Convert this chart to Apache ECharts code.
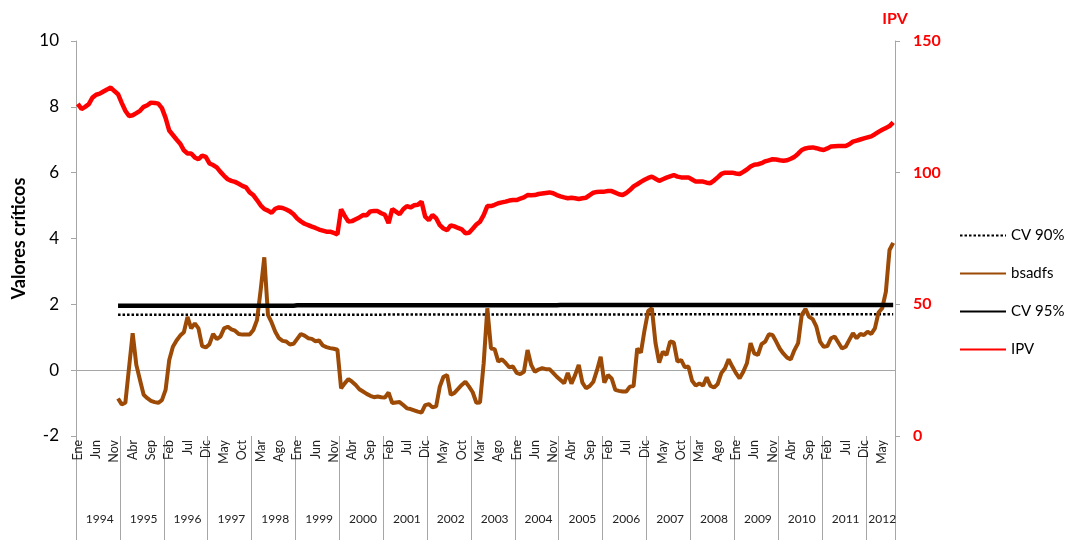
<!DOCTYPE html>
<html>
<head>
<meta charset="utf-8">
<script src="https://cdn.jsdelivr.net/npm/echarts@6/dist/echarts.min.js"></script>
<style>
html, body { margin: 0; padding: 0; background: #fff; }
#chart { width: 1066px; height: 540px; }
</style>
</head>
<body>
<div id="chart"></div>
<script>
const monthNames = ["Ene", "Feb", "Mar", "Abr", "May", "Jun", "Jul", "Ago", "Sep", "Oct", "Nov", "Dic"]
const years = [1994, 1995, 1996, 1997, 1998, 1999, 2000, 2001, 2002, 2003, 2004, 2005, 2006, 2007, 2008, 2009, 2010, 2011, 2012]
const monthsLastYear = 8

// one row per year, Ene..Dic
const bsadfs = [
	null, null, null, null, null, null, null, null, null, null, null, -0.86,
	-1.04, -0.99, 0.07, 1.12, 0.16, -0.3, -0.75, -0.85, -0.93, -0.97, -0.99, -0.91,
	-0.6, 0.31, 0.71, 0.9, 1.05, 1.15, 1.62, 1.27, 1.42, 1.27, 0.73, 0.69,
	0.79, 1.1, 0.94, 1.02, 1.27, 1.32, 1.24, 1.2, 1.1, 1.08, 1.08, 1.08,
	1.22, 1.52, 2.43, 3.43, 1.68, 1.45, 1.17, 0.97, 0.89, 0.87, 0.78, 0.8,
	0.95, 1.1, 1.05, 0.97, 0.95, 0.88, 0.9, 0.75, 0.7, 0.67, 0.65, 0.62,
	-0.55, -0.4, -0.27, -0.35, -0.45, -0.58, -0.65, -0.72, -0.78, -0.82, -0.8, -0.82,
	-0.83, -0.68, -1.0, -0.98, -0.97, -1.06, -1.16, -1.18, -1.22, -1.26, -1.29, -1.06,
	-1.03, -1.13, -1.1, -0.5, -0.2, -0.15, -0.75, -0.69, -0.57, -0.45, -0.35, -0.5,
	-0.67, -0.99, -0.98, 0.21, 1.88, 0.66, 0.64, 0.26, 0.33, 0.22, 0.09, 0.11,
	-0.08, -0.12, -0.05, 0.61, 0.16, -0.05, 0.02, 0.06, 0.03, 0.03, -0.08, -0.2,
	-0.3, -0.4, -0.08, -0.41, -0.15, 0.16, -0.38, -0.55, -0.48, -0.35, 0.0, 0.41,
	-0.38, -0.15, -0.25, -0.6, -0.63, -0.65, -0.65, -0.5, -0.48, 0.66, 0.53, 1.22,
	1.8, 1.88, 0.82, 0.23, 0.56, 0.46, 0.87, 0.84, 0.26, 0.31, 0.09, 0.11,
	-0.32, -0.47, -0.4, -0.47, -0.22, -0.47, -0.53, -0.42, -0.09, 0.06, 0.33, 0.11,
	-0.09, -0.25, -0.05, 0.21, 0.82, 0.51, 0.46, 0.79, 0.87, 1.09, 1.07, 0.87,
	0.65, 0.5, 0.38, 0.33, 0.61, 0.82, 1.68, 1.86, 1.62, 1.55, 1.32, 0.87,
	0.71, 0.73, 0.97, 1.02, 0.84, 0.66, 0.71, 0.92, 1.12, 0.97, 1.1, 1.07,
	1.17, 1.1, 1.27, 1.75, 1.88, 2.38, 3.65, 3.87
]

const cv95 = [
	null, null, null, null, null, null, null, null, null, null, null, 1.96,
	1.96, 1.96, 1.96, 1.96, 1.96, 1.96, 1.96, 1.96, 1.96, 1.96, 1.96, 1.96,
	1.96, 1.96, 1.96, 1.96, 1.96, 1.96, 1.96, 1.96, 1.96, 1.96, 1.96, 1.96,
	1.96, 1.96, 1.96, 1.96, 1.96, 1.96, 1.96, 1.96, 1.96, 1.96, 1.96, 1.96,
	1.96, 1.96, 1.96, 1.96, 1.96, 1.96, 1.96, 1.96, 1.96, 1.96, 1.96, 1.96,
	1.97, 1.97, 1.97, 1.97, 1.97, 1.97, 1.97, 1.97, 1.97, 1.97, 1.97, 1.97,
	1.97, 1.97, 1.97, 1.97, 1.97, 1.97, 1.97, 1.97, 1.97, 1.97, 1.97, 1.97,
	1.97, 1.97, 1.97, 1.97, 1.97, 1.97, 1.97, 1.97, 1.97, 1.97, 1.97, 1.97,
	1.97, 1.97, 1.97, 1.97, 1.97, 1.97, 1.97, 1.97, 1.97, 1.97, 1.97, 1.97,
	1.97, 1.97, 1.97, 1.97, 1.97, 1.97, 1.97, 1.97, 1.97, 1.97, 1.97, 1.97,
	1.97, 1.97, 1.97, 1.97, 1.97, 1.97, 1.97, 1.97, 1.97, 1.97, 1.97, 1.97,
	1.98, 1.98, 1.98, 1.98, 1.98, 1.98, 1.98, 1.98, 1.98, 1.98, 1.98, 1.98,
	1.98, 1.98, 1.98, 1.98, 1.98, 1.98, 1.98, 1.98, 1.98, 1.98, 1.98, 1.98,
	1.98, 1.98, 1.98, 1.98, 1.98, 1.98, 1.98, 1.98, 1.98, 1.98, 1.98, 1.98,
	1.98, 1.98, 1.98, 1.98, 1.98, 1.98, 1.98, 1.98, 1.98, 1.98, 1.98, 1.98,
	1.98, 1.98, 1.98, 1.98, 1.98, 1.98, 1.98, 1.98, 1.98, 1.98, 1.98, 1.98,
	1.98, 1.98, 1.98, 1.98, 1.98, 1.98, 1.98, 1.98, 1.98, 1.98, 1.98, 1.98,
	1.98, 1.98, 1.98, 1.98, 1.98, 1.98, 1.98, 1.98, 1.98, 1.98, 1.98, 1.98,
	1.98, 1.98, 1.98, 1.98, 1.98, 1.98, 1.98, 1.98
]

const cv90 = [
	null, null, null, null, null, null, null, null, null, null, null, 1.68,
	1.68, 1.68, 1.68, 1.68, 1.68, 1.68, 1.68, 1.68, 1.68, 1.68, 1.68, 1.68,
	1.68, 1.68, 1.68, 1.68, 1.68, 1.68, 1.68, 1.68, 1.68, 1.68, 1.68, 1.68,
	1.68, 1.68, 1.68, 1.68, 1.68, 1.68, 1.68, 1.68, 1.68, 1.68, 1.68, 1.68,
	1.68, 1.68, 1.68, 1.68, 1.68, 1.68, 1.68, 1.68, 1.68, 1.68, 1.68, 1.68,
	1.68, 1.68, 1.68, 1.68, 1.68, 1.68, 1.68, 1.68, 1.68, 1.68, 1.68, 1.68,
	1.68, 1.68, 1.68, 1.68, 1.68, 1.68, 1.68, 1.68, 1.68, 1.68, 1.68, 1.68,
	1.69, 1.69, 1.69, 1.69, 1.69, 1.69, 1.69, 1.69, 1.69, 1.69, 1.69, 1.69,
	1.69, 1.69, 1.69, 1.69, 1.69, 1.69, 1.69, 1.69, 1.69, 1.69, 1.69, 1.69,
	1.69, 1.69, 1.69, 1.69, 1.69, 1.69, 1.69, 1.69, 1.69, 1.69, 1.69, 1.69,
	1.69, 1.69, 1.69, 1.69, 1.69, 1.69, 1.69, 1.69, 1.69, 1.69, 1.69, 1.69,
	1.69, 1.69, 1.69, 1.69, 1.69, 1.69, 1.69, 1.69, 1.69, 1.69, 1.69, 1.69,
	1.69, 1.69, 1.69, 1.69, 1.69, 1.69, 1.69, 1.69, 1.69, 1.69, 1.69, 1.69,
	1.70, 1.70, 1.70, 1.70, 1.70, 1.70, 1.70, 1.70, 1.70, 1.70, 1.70, 1.70,
	1.70, 1.70, 1.70, 1.70, 1.70, 1.70, 1.70, 1.70, 1.70, 1.70, 1.70, 1.70,
	1.70, 1.70, 1.70, 1.70, 1.70, 1.70, 1.70, 1.70, 1.70, 1.70, 1.70, 1.70,
	1.70, 1.70, 1.70, 1.70, 1.70, 1.70, 1.70, 1.70, 1.70, 1.70, 1.70, 1.70,
	1.70, 1.70, 1.70, 1.70, 1.70, 1.70, 1.70, 1.70, 1.70, 1.70, 1.70, 1.70,
	1.70, 1.70, 1.70, 1.70, 1.70, 1.70, 1.70, 1.70
]

const ipv = [
	126.1, 124.2, 125.0, 126.0, 128.5, 129.6, 130.0, 130.8, 131.6, 132.3, 131.0, 129.8,
	126.5, 123.5, 121.5, 121.8, 122.6, 123.5, 125.0, 125.6, 126.6, 126.5, 126.2, 124.5,
	120.8, 116.0, 114.3, 112.6, 111.0, 108.5, 107.3, 107.3, 105.8, 105.1, 106.5, 106.0,
	103.5, 102.9, 102.0, 100.3, 98.8, 97.5, 96.9, 96.5, 95.8, 95.0, 94.4, 92.5,
	91.5, 89.6, 87.6, 86.2, 85.6, 84.8, 86.3, 86.8, 86.6, 86.0, 85.3, 84.2,
	82.6, 81.5, 80.6, 80.1, 79.5, 79.0, 78.4, 78.0, 77.6, 77.6, 77.1, 76.6,
	86.1, 83.6, 81.4, 81.6, 82.3, 83.0, 83.9, 83.8, 85.3, 85.4, 85.4, 84.6,
	84.0, 80.8, 86.2, 85.2, 84.2, 86.1, 87.3, 86.8, 87.6, 87.8, 89.0, 83.3,
	82.0, 83.9, 82.7, 80.1, 78.8, 78.2, 80.0, 79.6, 79.0, 78.5, 77.0, 77.2,
	78.7, 80.3, 81.4, 83.9, 87.3, 87.3, 87.8, 88.4, 88.7, 89.0, 89.4, 89.6,
	89.6, 90.1, 90.6, 91.5, 91.4, 91.5, 91.9, 92.1, 92.3, 92.5, 92.2, 91.5,
	91.0, 90.6, 90.3, 90.5, 90.3, 90.0, 90.3, 90.5, 91.5, 92.4, 92.7, 92.8,
	92.8, 93.0, 93.0, 92.4, 91.8, 91.5, 92.3, 93.4, 94.8, 95.6, 96.5, 97.3,
	98.0, 98.5, 97.7, 96.9, 97.5, 98.1, 98.6, 99.1, 98.5, 98.2, 98.2, 98.2,
	97.4, 96.6, 96.6, 96.6, 96.2, 96.0, 97.0, 98.2, 99.5, 100.0, 100.0, 100.0,
	99.7, 99.5, 100.3, 101.2, 102.3, 103.0, 103.2, 103.6, 104.3, 104.7, 105.1, 105.0,
	104.7, 104.5, 104.7, 105.3, 106.0, 107.2, 108.6, 109.2, 109.5, 109.6, 109.3, 108.9,
	108.6, 109.2, 109.9, 110.0, 110.1, 110.1, 110.1, 110.8, 111.8, 112.2, 112.6, 113.0,
	113.4, 113.8, 114.6, 115.5, 116.3, 117.0, 117.7, 119.1
]

const categories = []
years.forEach((y, k) => {
	const n = k === years.length - 1 ? monthsLastYear : 12
	for (let m = 0; m < n; m++) categories.push(monthNames[m] + " " + y)
})

const font = "Lato"
const axisGrey = "#a6a6a6"

const chart = echarts.init(document.getElementById("chart"))

const option = {
	animation: false,
	backgroundColor: "#fff",
	textStyle: { fontFamily: font },
	grid: { left: 76, right: 171, top: 41, bottom: 104 },
	legend: {
		orient: "vertical",
		left: 954,
		top: 223,
		itemWidth: 46,
		itemHeight: 14,
		itemGap: 23,
		itemStyle: { opacity: 0 },
		textStyle: { fontFamily: font, fontSize: 15, color: "#000" },
		data: ["CV 90%", "bsadfs", "CV 95%", "IPV"]
	},
	xAxis: [
		{
			type: "category",
			data: categories,
			boundaryGap: true,
			axisLine: { lineStyle: { color: axisGrey, width: 1 } },
			axisTick: { show: false },
			splitLine: { show: false },
			axisLabel: {
				interval: 4,
				rotate: 90,
				margin: 4,
				fontFamily: font,
				fontSize: 12.5,
				color: "#222",
				formatter: v => v.split(" ")[0]
			}
		},
		{
			type: "category",
			data: categories,
			position: "bottom",
			boundaryGap: true,
			axisLine: { show: false },
			axisTick: {
				show: true,
				alignWithLabel: false,
				length: 104,
				interval: i => i % 12 === 0,
				lineStyle: { color: axisGrey, width: 1 }
			},
			splitLine: { show: false },
			axisLabel: {
				interval: i => i % 12 === 6 || i === 220,
				margin: 77,
				fontFamily: font,
				fontSize: 12,
				color: "#222",
				formatter: v => v.split(" ")[1]
			}
		}
	],
	yAxis: [
		{
			type: "value",
			min: -2,
			max: 10,
			interval: 2,
			name: "Valores críticos",
			nameLocation: "middle",
			nameGap: 48,
			nameTextStyle: { fontFamily: font, fontSize: 18, fontWeight: "bold", color: "#000" },
			axisLine: { show: true, lineStyle: { color: axisGrey } },
			axisTick: { show: true, length: 5, lineStyle: { color: axisGrey } },
			splitLine: { show: false },
			axisLabel: { margin: 17, fontFamily: font, fontSize: 17, color: "#000" }
		},
		{
			type: "value",
			position: "right",
			min: 0,
			max: 150,
			interval: 50,
			name: "IPV",
			nameLocation: "end",
			nameGap: 14,
			nameTextStyle: { fontFamily: font, fontSize: 16, fontWeight: "bold", color: "#ff0000", align: "center" },
			axisLine: { show: true, lineStyle: { color: axisGrey } },
			axisTick: { show: true, length: 5, lineStyle: { color: axisGrey } },
			splitLine: { show: false },
			axisLabel: { margin: 18, fontFamily: font, fontSize: 16, fontWeight: "bold", color: "#ff0000" }
		}
	],
	series: [
		{
			name: "CV 90%",
			type: "line",
			data: cv90,
			symbol: "none",
			lineStyle: { color: "#000", width: 2.5, type: [2.5, 2] },
			itemStyle: { color: "#000" }
		},
		{
			name: "bsadfs",
			type: "line",
			data: bsadfs,
			symbol: "none",
			lineStyle: { color: "#9c4a06", width: 4 },
			itemStyle: { color: "#9c4a06" }
		},
		{
			name: "CV 95%",
			type: "line",
			data: cv95,
			symbol: "none",
			lineStyle: { color: "#000", width: 4.5 },
			itemStyle: { color: "#000" }
		},
		{
			name: "IPV",
			type: "line",
			yAxisIndex: 1,
			data: ipv,
			symbol: "none",
			lineStyle: { color: "#ff0000", width: 4.5 },
			itemStyle: { color: "#ff0000" }
		}
	]
}

chart.setOption(option)
</script>
</body>
</html>
